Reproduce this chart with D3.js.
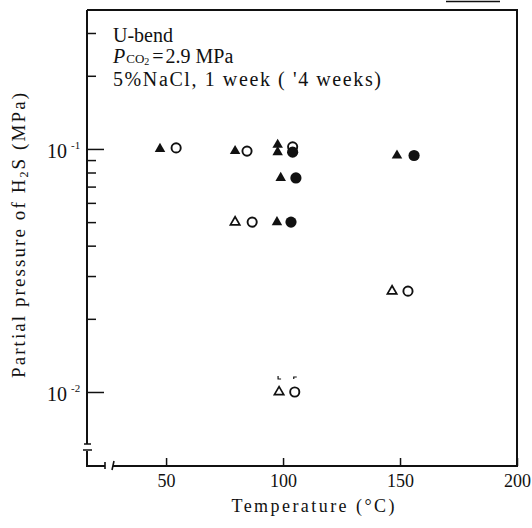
<!DOCTYPE html>
<html>
<head>
<meta charset="utf-8">
<script src="https://cdn.jsdelivr.net/npm/d3@7"></script>
<style>
  body { margin: 0; background: #fff; }
  text { font-family: "Liberation Serif", "DejaVu Serif", serif; fill: #111; }
</style>
</head>
<body>
<svg width="532" height="528"></svg>
<script>
// triangles = 1 week, circles = 4 weeks; filled = cracked, open = not cracked
const filledTriangles = [[47.4, 0.100], [79.5, 0.098], [97.7, 0.104], [97.7, 0.097],
                         [99, 0.076], [97.4, 0.050], [148.7, 0.094]];
const openTriangles = [[79.5, 0.050], [146.6, 0.026], [98.3, 0.010]];
const openCircles = [[54.3, 0.101], [84.6, 0.098], [104.1, 0.102], [86.8, 0.050],
                     [153.4, 0.026], [105, 0.010]];
const filledCircles = [[104.1, 0.097], [105.5, 0.076], [103.4, 0.050], [156, 0.094]];

const xTicks = [50, 100, 150, 200];
const yMajor = [0.1, 0.01];
const yMajorExp = ['-1', '-2'];
const yMinor = [0.02, 0.03, 0.04, 0.05, 0.06, 0.07, 0.08, 0.09, 0.2, 0.3];

const svg = d3.select('svg');
const ink = '#111';

const x = d3.scaleLinear().domain([16.2, 200]).range([87, 517]);
const y = d3.scaleLog().domain([0.00496, 0.373]).range([466, 10]);
const [x0, x1] = x.range();
const [yb, yt] = y.range();

// frame, with breaks near the origin
svg.append('path')
    .attr('d', `M${x0},${yt}H${x1}V${yb}H113M105,${yb}H${x0}V451M${x0},444V${yt}`)
    .attr('fill', 'none')
    .attr('stroke', ink)
    .attr('stroke-width', 2);
svg.append('path')
    .attr('d', `M${x0 - 3},444H${x0 + 4}M${x0 - 4},450H${x0 + 5}M105,${yb - 4}V${yb + 3}M112,${yb + 4}L114,${yb - 5}`)
    .attr('fill', 'none')
    .attr('stroke', ink)
    .attr('stroke-width', 1.6);

// scan line at top right
svg.append('line')
    .attr('x1', 446).attr('x2', 500).attr('y1', 1.5).attr('y2', 1.5)
    .attr('stroke', ink).attr('stroke-width', 1.5);

// y ticks (inside)
const yAxisMajor = d3.axisRight(y).tickValues(yMajor).tickSize(17).tickFormat('');
const yAxisMinor = d3.axisRight(y).tickValues(yMinor).tickSize(9).tickFormat('');
[yAxisMajor, yAxisMinor].forEach(ax => {
  const g = svg.append('g').attr('transform', `translate(${x0},0)`).call(ax);
  g.select('.domain').remove();
  g.selectAll('line').attr('stroke', ink).attr('stroke-width', 1.5);
});

const yLab = svg.selectAll('text.ylab')
    .data(yMajor)
    .join('text')
    .attr('class', 'ylab')
    .attr('x', 47)
    .attr('y', d => y(d) + 9)
    .style('font-size', '20px');
yLab.append('tspan').text('10');
yLab.append('tspan')
    .attr('dx', 4)
    .attr('dy', -9)
    .style('font-size', '11px')
    .text((d, i) => yMajorExp[i]);

// x axis: ticks up, labels below
const gx = svg.append('g')
    .attr('transform', `translate(0,${yb})`)
    .call(d3.axisBottom(x).tickValues(xTicks).tickSizeInner(-8).tickSizeOuter(0)
        .tickPadding(8).tickFormat(d3.format('d')));
gx.select('.domain').remove();
gx.selectAll('line').attr('stroke', ink).attr('stroke-width', 1.5);
gx.selectAll('text')
    .attr('fill', ink)
    .style('font-family', '"Liberation Serif", serif')
    .style('font-size', '18px');

// markers
const tri = d3.symbol().type(d3.symbolTriangle);
svg.selectAll('path.otri')
    .data(openTriangles)
    .join('path')
    .attr('transform', d => `translate(${x(d[0])},${y(d[1])})`)
    .attr('d', tri.size(38)())
    .attr('fill', '#fff')
    .attr('stroke', ink)
    .attr('stroke-width', 1.7);
svg.selectAll('circle.ocir')
    .data(openCircles)
    .join('circle')
    .attr('cx', d => x(d[0]))
    .attr('cy', d => y(d[1]))
    .attr('r', 4.6)
    .attr('fill', '#fff')
    .attr('stroke', ink)
    .attr('stroke-width', 1.9);
svg.selectAll('path.ftri')
    .data(filledTriangles)
    .join('path')
    .attr('transform', d => `translate(${x(d[0])},${y(d[1])})`)
    .attr('d', tri.size(48)())
    .attr('fill', ink);
svg.selectAll('circle.fcir')
    .data(filledCircles)
    .join('circle')
    .attr('cx', d => x(d[0]))
    .attr('cy', d => y(d[1]))
    .attr('r', 5.6)
    .attr('fill', ink);

// little marks over the lowest pair
const lowest = [openTriangles[2], openCircles[5]];
svg.selectAll('path.nick')
    .data(lowest)
    .join('path')
    .attr('transform', d => `translate(${x(d[0])},${y(d[1]) - 14})`)
    .attr('d', (d, i) => i === 0 ? 'M-1,-2V1H2' : 'M-1,1V-1H2')
    .attr('fill', 'none')
    .attr('stroke', ink)
    .attr('stroke-width', 1.2);

// condition notes
svg.append('text').attr('x', 113).attr('y', 42).style('font-size', '20px').text('U-bend');
const l2 = svg.append('text').attr('x', 113).attr('y', 63)
    .style('font-size', '20px');
l2.append('tspan').style('font-style', 'italic').text('P');
l2.append('tspan').attr('dx', 1).style('font-size', '13px').text('CO');
l2.append('tspan').attr('dy', 2).style('font-size', '10px').text('2');
l2.append('tspan').attr('dy', -2).attr('dx', 3).text('=');
l2.append('tspan').attr('dx', 2).text('2.9 MPa');
svg.append('text').attr('x', 113).attr('y', 86)
    .attr('textLength', 268).attr('lengthAdjust', 'spacing')
    .style('font-size', '20px')
    .text("5%NaCl, 1 week ( '4 weeks)");

// axis titles
const yt2 = svg.append('text')
    .attr('transform', 'translate(25,235.5) rotate(-90)')
    .attr('text-anchor', 'middle')
    .attr('textLength', 285).attr('lengthAdjust', 'spacing')
    .style('font-size', '19px');
yt2.append('tspan').text('Partial pressure of H');
yt2.append('tspan').attr('dy', 3).style('font-size', '12px').text('2');
yt2.append('tspan').attr('dy', -3).text('S (MPa)');

svg.append('text')
    .attr('x', 313).attr('y', 512)
    .attr('text-anchor', 'middle')
    .attr('textLength', 163).attr('lengthAdjust', 'spacing')
    .style('font-size', '18px')
    .text('Temperature (°C)');
</script>
</body>
</html>
